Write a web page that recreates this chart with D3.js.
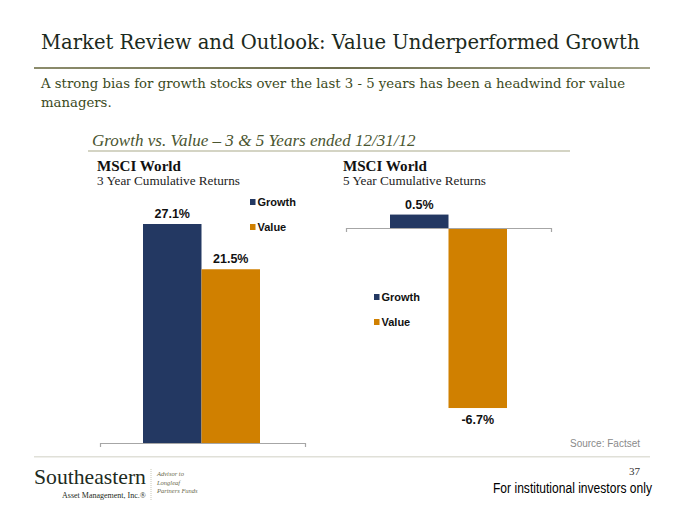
<!DOCTYPE html>
<html><head><meta charset="utf-8">
<script src="https://cdn.jsdelivr.net/npm/d3@7"></script>
<style>body{margin:0;background:#fff}svg{display:block}</style>
</head><body>
<script>
const series = ["Growth", "Value"];
const colors = ["#233862", "#D08000"];
const panel1Title = "MSCI World";
const panel1Sub = "3 Year Cumulative Returns";
const panel1Values = [27.1, 21.5];
const panel2Title = "MSCI World";
const panel2Sub = "5 Year Cumulative Returns";
const panel2Values = [0.5, -6.7];

const W = 680, H = 525;
const svg = d3.select("body").append("svg").attr("width", W).attr("height", H);
const serif = "'DejaVu Serif', 'Liberation Serif', serif";
const tserif = "'Liberation Serif', serif";
const sans = "'Liberation Sans', Arial, sans-serif";

function fit(sel, width) {
  const n = sel.node();
  const fs = parseFloat(sel.attr("font-size"));
  const w = n.getComputedTextLength();
  sel.attr("font-size", fs * width / w);
  return sel;
}

// Title
fit(svg.append("text").attr("x", 41).attr("y", 49).attr("font-family", serif).attr("font-size", 20)
  .attr("fill", "#1c2a20").text("Market Review and Outlook: Value Underperformed Growth"), 599);
const grad = svg.append("defs").append("linearGradient").attr("id", "tl");
grad.append("stop").attr("offset", "0").attr("stop-color", "#8c8c6c");
grad.append("stop").attr("offset", "0.5").attr("stop-color", "#6e6e4e");
grad.append("stop").attr("offset", "1").attr("stop-color", "#a4a48a");
svg.append("rect").attr("x", 34).attr("y", 67).attr("width", 616).attr("height", 2).attr("fill", "url(#tl)");

const sub1 = fit(svg.append("text").attr("x", 41).attr("y", 88).attr("font-family", serif).attr("font-size", 14)
  .attr("fill", "#3b4a1c").text("A strong bias for growth stocks over the last 3 - 5 years has been a headwind for value"), 585);
svg.append("text").attr("x", 41).attr("y", 107).attr("font-family", serif).attr("font-size", sub1.attr("font-size"))
  .attr("fill", "#3b4a1c").text("managers.");

fit(svg.append("text").attr("x", 92).attr("y", 146).attr("font-family", tserif).attr("font-style", "italic").attr("font-size", 16)
  .attr("fill", "#4a5530").text("Growth vs. Value \u2013 3 & 5 Years ended 12/31/12"), 324);
svg.append("rect").attr("x", 88).attr("y", 150).attr("width", 482).attr("height", 2).attr("fill", "#d4d4c4");

function panel(opts) {
  const g = svg.append("g");
  fit(g.append("text").attr("x", opts.tx).attr("y", 171).attr("font-family", tserif).attr("font-weight", "bold")
    .attr("font-size", 14.5).attr("fill", "#111").text(opts.title), 84);
  fit(g.append("text").attr("x", opts.tx).attr("y", 185).attr("font-family", tserif)
    .attr("font-size", 12).attr("fill", "#222").text(opts.sub), 143);

  const x = d3.scaleBand().domain(series).range(opts.barRange).padding(0);
  const y = d3.scaleLinear().domain(opts.domain).range(opts.yRange);
  const outer = d3.scaleBand().domain([opts.title]).range(opts.axisRange);

  g.selectAll("rect.bar").data(opts.values).join("rect").attr("class", "bar")
    .attr("x", (d, i) => x(series[i]))
    .attr("width", x.bandwidth())
    .attr("y", d => y(Math.max(0, d)))
    .attr("height", d => Math.abs(y(d) - y(0)))
    .attr("fill", (d, i) => colors[i]);

  const ax = g.append("g").attr("transform", `translate(0,${y(0)})`)
    .call(d3.axisBottom(outer).tickSizeInner(0).tickSizeOuter(4).tickFormat(""));
  ax.select(".domain").attr("stroke", "#a6a6a6").attr("stroke-width", 1.2);

  g.selectAll("text.lbl").data(opts.values).join("text").attr("class", "lbl")
    .attr("x", (d, i) => x(series[i]) + x.bandwidth() / 2)
    .attr("y", d => d >= 0 ? y(d) - 6 : y(d) + 16)
    .attr("text-anchor", "middle").attr("font-family", sans).attr("font-weight", "bold")
    .attr("font-size", 12.5).attr("fill", "#111")
    .text(d => d.toFixed(1) + "%");

  const lg = g.append("g");
  series.forEach((s, i) => {
    lg.append("rect").attr("x", opts.lx).attr("y", opts.ly + i * 25 - 3).attr("width", 5.5).attr("height", 6).attr("fill", colors[i]);
    lg.append("text").attr("x", opts.lx + 7.5).attr("y", opts.ly + i * 25 + 4).attr("font-family", sans)
      .attr("font-weight", "bold").attr("font-size", 11).attr("fill", "#111").text(s);
  });
}

panel({title: panel1Title, sub: panel1Sub, values: panel1Values, tx: 97,
  barRange: [143, 260], axisRange: [100, 305], domain: [0, 30], yRange: [443, 443 - 30 * 8.081],
  lx: 250, ly: 202});
panel({title: panel2Title, sub: panel2Sub, values: panel2Values, tx: 343,
  barRange: [390, 507], axisRange: [346, 551], domain: [-7, 1], yRange: [228 + 7 * 26.87, 228 - 26.87],
  lx: 374, ly: 297});

// Footer
svg.append("text").attr("x", 640).attr("y", 447).attr("text-anchor", "end").attr("font-family", sans)
  .attr("font-size", 10).attr("fill", "#8a8a8a").text("Source: Factset");
svg.append("rect").attr("x", 34).attr("y", 456).attr("width", 616).attr("height", 1.5).attr("fill", "#e0e0d8");

fit(svg.append("text").attr("x", 34).attr("y", 484).attr("font-family", tserif)
  .attr("font-size", 20).attr("fill", "#1d2b22").text("Southeastern"), 112);
fit(svg.append("text").attr("x", 62).attr("y", 498).attr("font-family", tserif)
  .attr("font-size", 10).attr("fill", "#1d2b22").text("Asset Management, Inc.\u00AE"), 84);
svg.append("line").attr("x1", 151).attr("x2", 151).attr("y1", 469).attr("y2", 500)
  .attr("stroke", "#c8c8b8").attr("stroke-dasharray", "1,1");
["Advisor to", "Longleaf", "Partners Funds"].forEach((t, i) => {
  svg.append("text").attr("x", 157).attr("y", 476 + i * 8.5).attr("font-family", tserif)
    .attr("font-style", "italic").attr("font-size", 6.5).attr("fill", "#6a6a4a").text(t);
});
svg.append("text").attr("x", 640).attr("y", 475).attr("text-anchor", "end").attr("font-family", tserif)
  .attr("font-size", 11).attr("fill", "#333").text("37");
const inst = svg.append("g");
const instText = inst.append("text").attr("x", 0).attr("y", 0).attr("font-family", sans)
  .attr("font-size", 15).attr("fill", "#000").text("For institutional investors only");
const iw = instText.node().getComputedTextLength();
inst.attr("transform", `translate(493,493) scale(${159 / iw},1)`);
</script>
</body></html>
